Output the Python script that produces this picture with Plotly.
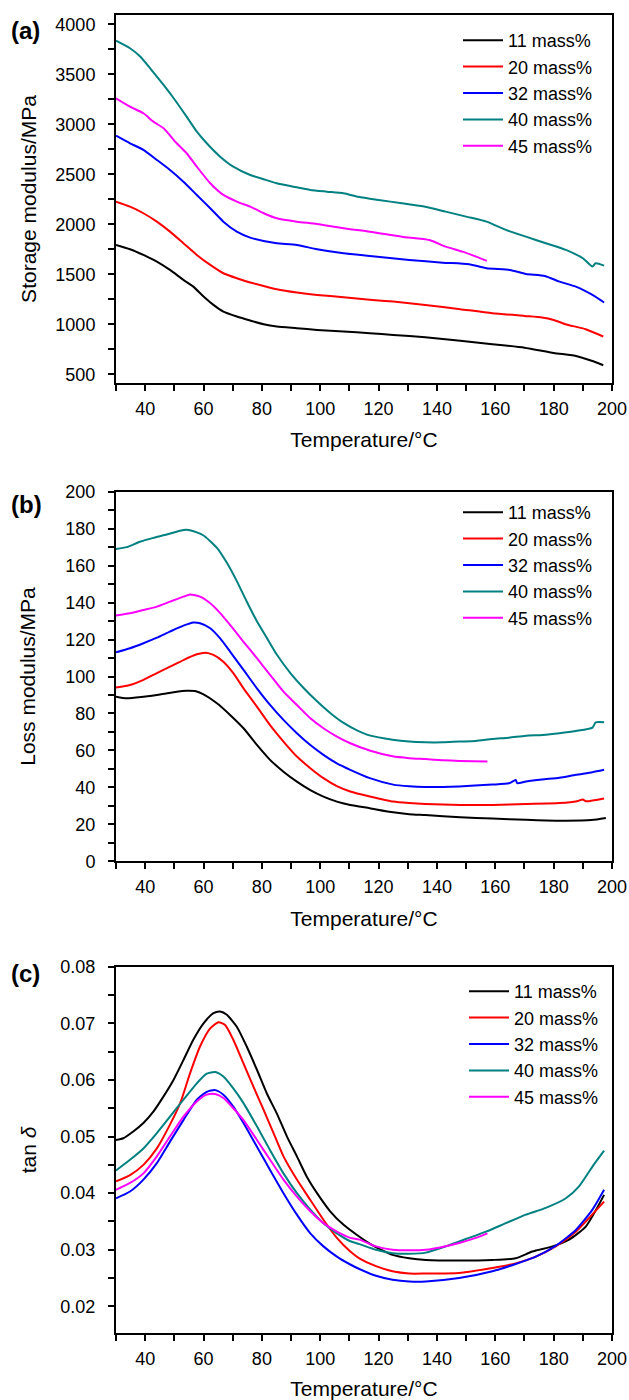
import plotly.graph_objects as go

# ---------------- data ----------------
names = ["11 mass%", "20 mass%", "32 mass%", "40 mass%", "45 mass%"]
colors = ["#000000", "#FF0000", "#0000FF", "#008080", "#FF00FF"]

# (a) Storage modulus / MPa
T_a11 = [30, 34.8, 39.4, 44, 48.5, 53.1, 56.5, 60, 63.4, 66.8, 71.4, 76, 80.6, 85.1, 92, 98.9, 108, 117, 125, 136, 148, 159, 170, 180, 188, 193, 197]
E_a11 = [1793, 1750, 1693, 1626, 1543, 1443, 1376, 1277, 1193, 1126, 1077, 1037, 1000, 977, 960, 943, 927, 910, 893, 870, 835, 800, 765, 713, 680, 635, 590]
T_a20 = [30, 34.8, 39.4, 44, 48.5, 53.1, 57.7, 62.3, 66.8, 71.4, 76, 80.6, 85.1, 92, 98.9, 108, 117, 125, 136, 148, 159, 170, 176, 180, 184, 191, 197]
E_a20 = [2226, 2176, 2110, 2026, 1926, 1810, 1693, 1593, 1510, 1460, 1417, 1383, 1350, 1317, 1293, 1270, 1245, 1226, 1193, 1150, 1110, 1083, 1068, 1043, 1000, 950, 877]
T_a32 = [30, 34.8, 39.4, 44, 48.5, 53.1, 57.7, 62.3, 66.8, 71.4, 76, 80.6, 85.1, 92, 98.9, 108, 117, 130.5, 142, 151, 157, 165, 170.5, 177, 182, 187.6, 193.3, 197.3]
E_a32 = [2886, 2810, 2743, 2643, 2543, 2426, 2293, 2160, 2026, 1926, 1866, 1833, 1810, 1793, 1750, 1710, 1683, 1643, 1616, 1600, 1560, 1543, 1503, 1483, 1426, 1376, 1293, 1217]
T_a40 = [30, 34.8, 38.2, 41.7, 46.3, 50.2, 54.2, 57.7, 61.1, 65.7, 70.2, 76, 80.6, 85.1, 90.8, 96.6, 102.3, 108, 113, 120, 128, 136, 143, 150, 157, 163.6, 170.5, 177.3, 184.2, 190, 193.3, 194.4, 197.3]
E_a40 = [3836, 3760, 3680, 3560, 3393, 3243, 3076, 2926, 2810, 2676, 2576, 2493, 2450, 2410, 2376, 2343, 2326, 2310, 2275, 2243, 2210, 2176, 2126, 2076, 2026, 1943, 1876, 1810, 1743, 1660, 1577, 1610, 1586]
T_a45 = [30, 34.8, 39.4, 42.8, 46.3, 50.8, 54.2, 57.7, 62.3, 66.8, 71.4, 76, 80.6, 85.1, 92, 98.9, 108, 117, 128, 137.4, 143, 148.8, 153.4, 157.1]
E_a45 = [3260, 3176, 3110, 3026, 2960, 2810, 2710, 2576, 2410, 2293, 2226, 2176, 2110, 2060, 2026, 2003, 1960, 1926, 1876, 1843, 1776, 1726, 1676, 1633]

# (b) Loss modulus / MPa
T_b11 = [30, 33.7, 39.4, 45.1, 50.8, 54.2, 57.1, 60, 64.6, 69.1, 73.7, 78.3, 82.8, 87.4, 92, 96.6, 101.1, 105.7, 110.3, 117, 125, 130.5, 136, 148, 159, 170.5, 182, 193, 197.9]
E_b11 = [89.1, 88.2, 89.1, 90.3, 91.8, 92.3, 92.1, 90.3, 85.5, 79.2, 72.0, 63.0, 54.9, 48.5, 43.1, 38.5, 35.0, 32.3, 30.5, 28.7, 26.5, 25.5, 25.0, 23.8, 23.1, 22.5, 22.0, 22.3, 23.4]
T_b20 = [30, 34.8, 39.4, 44, 48.5, 53.1, 57.7, 60.6, 63.4, 66.8, 70.2, 73.7, 78.3, 82.8, 87.4, 92, 96.6, 101.1, 105.7, 110.3, 117, 125, 130.5, 136, 148, 159, 170.5, 182, 188, 190, 191, 197.3]
E_b20 = [94.0, 95.4, 98.2, 101.8, 105.3, 108.9, 112.0, 112.9, 111.7, 108.0, 101.8, 93.6, 83.7, 73.7, 64.8, 56.7, 50.4, 45.0, 40.7, 37.8, 35.1, 32.3, 31.5, 31.0, 30.5, 30.5, 31.0, 31.5, 32.5, 33.5, 32.5, 34.0]
T_b32 = [30, 34.8, 39.4, 44, 48.5, 53.1, 56.5, 58.8, 62.3, 65.7, 69.1, 73.7, 78.3, 82.8, 87.4, 92, 96.6, 101.1, 105.7, 110.3, 117, 125, 130.5, 136, 142, 147.6, 153, 159, 164.7, 167, 167.5, 170.5, 176, 182, 187.6, 193.3, 197.3]
E_b32 = [113.1, 115.3, 118.0, 121.0, 124.3, 127.5, 129.2, 128.8, 126.1, 120.6, 113.5, 103.6, 93.6, 84.6, 76.5, 69.3, 62.9, 57.6, 53.0, 49.5, 45.0, 41.5, 40.6, 40.2, 40.2, 40.5, 41.0, 41.5, 42.2, 44.0, 42.3, 43.2, 44.3, 45.2, 46.8, 48.2, 49.5]
T_b40 = [30, 33.7, 38.2, 42.8, 47.4, 51.9, 54.2, 57.7, 60, 64.6, 68, 71.4, 74.8, 78.3, 81.7, 85.1, 89.7, 94.3, 98.9, 103.4, 108, 112.6, 117.2, 124.8, 130.5, 136, 142, 147.6, 153.3, 159, 164.7, 170.5, 176.2, 182, 187.6, 193.3, 194.4, 197.3]
E_b40 = [169.0, 170.0, 172.9, 175.0, 176.8, 178.9, 179.4, 178.0, 176.3, 169.6, 161.5, 151.6, 140.6, 129.9, 120.9, 111.9, 102.0, 93.8, 86.6, 80.3, 74.9, 70.9, 68.0, 65.8, 64.8, 64.4, 64.4, 64.8, 65.1, 66.2, 66.9, 68.0, 68.4, 69.3, 70.5, 72.3, 75.2, 75.2]
T_b45 = [30, 34.8, 39.4, 44, 48.5, 53.1, 55.4, 58.8, 62.3, 65.7, 69.1, 73.7, 78.3, 82.8, 87.4, 92, 96.6, 101.1, 105.7, 110.3, 117.2, 124.8, 130.5, 136, 142, 147.6, 157.3]
E_b45 = [133.0, 134.2, 136.0, 137.8, 140.5, 143.2, 144.4, 143.2, 139.6, 134.3, 127.9, 118.8, 109.9, 100.9, 91.8, 84.6, 77.4, 72.0, 67.5, 63.9, 59.8, 56.8, 55.8, 55.3, 54.7, 54.3, 54.0]

# (c) tan delta
T_c11 = [30, 32.5, 35.9, 39.4, 42.8, 46.3, 49.7, 53.1, 56.5, 60, 63.4, 65.7, 68, 71.4, 74.8, 78.3, 81.7, 85.1, 88.6, 92, 95.4, 98.9, 103.4, 108, 112.6, 117.2, 124.8, 130.5, 136.2, 147.6, 159, 167, 172.7, 179.6, 185.3, 191, 197.3]
D_c11 = [0.0494, 0.0497, 0.0509, 0.0524, 0.0544, 0.0571, 0.0600, 0.0635, 0.0671, 0.0700, 0.0718, 0.0721, 0.0715, 0.0694, 0.0659, 0.0618, 0.0576, 0.0541, 0.0500, 0.0465, 0.0429, 0.0400, 0.0368, 0.0344, 0.0326, 0.0310, 0.0291, 0.0285, 0.0282, 0.0281, 0.0282, 0.0285, 0.0297, 0.0306, 0.0318, 0.0341, 0.0397]
T_c20 = [30, 34.8, 39.4, 44, 48.5, 52, 55.4, 58.8, 62.3, 65.1, 67.4, 70.2, 73.7, 77.1, 80.6, 84, 87.4, 92, 96.6, 101.1, 105.7, 110.3, 113.4, 119.1, 124.8, 130.5, 136.2, 147.6, 159, 167, 173.9, 180.7, 187.6, 192.1, 197.3]
D_c20 = [0.0421, 0.0432, 0.0450, 0.0479, 0.0521, 0.0559, 0.0612, 0.0659, 0.0691, 0.0702, 0.0697, 0.0671, 0.0629, 0.0588, 0.0547, 0.0506, 0.0465, 0.0424, 0.0388, 0.0353, 0.0321, 0.0297, 0.0285, 0.0271, 0.0262, 0.0258, 0.0258, 0.0259, 0.0268, 0.0276, 0.0288, 0.0306, 0.0332, 0.0356, 0.0385]
T_c32 = [30, 34.8, 39.4, 44, 48.5, 53.1, 57.7, 61.1, 64, 66.8, 70.2, 73.7, 78.3, 82.8, 87.4, 92, 96.6, 101.1, 105.7, 110.3, 113.4, 119.1, 124.8, 130.5, 136.2, 147.6, 159, 167, 173.9, 180.7, 187.6, 193.3, 197.3]
D_c32 = [0.0391, 0.0403, 0.0424, 0.0453, 0.0491, 0.0529, 0.0565, 0.0579, 0.0582, 0.0574, 0.0553, 0.0524, 0.0482, 0.0441, 0.0400, 0.0362, 0.0329, 0.0306, 0.0288, 0.0274, 0.0266, 0.0254, 0.0247, 0.0244, 0.0244, 0.0250, 0.0262, 0.0275, 0.0288, 0.0307, 0.0335, 0.0371, 0.0406]
T_c40 = [30, 34.8, 39.4, 44, 48.5, 53.1, 57.7, 61.1, 64, 66.8, 70.2, 73.7, 78.3, 82.8, 87.4, 92, 96.6, 101.1, 105.7, 110.3, 113.4, 119.1, 124.8, 130.5, 136.2, 143, 149.9, 156.8, 163.6, 170.5, 177.3, 184.2, 188.7, 193.3, 197.3]
D_c40 = [0.0440, 0.0459, 0.0479, 0.0506, 0.0535, 0.0565, 0.0594, 0.0611, 0.0614, 0.0606, 0.0585, 0.0559, 0.0518, 0.0476, 0.0435, 0.0400, 0.0371, 0.0347, 0.0329, 0.0315, 0.0310, 0.0300, 0.0294, 0.0293, 0.0295, 0.0306, 0.0319, 0.0332, 0.0347, 0.0362, 0.0374, 0.0391, 0.0412, 0.0447, 0.0475]
T_c45 = [30, 34.8, 39.4, 44, 48.5, 53.1, 57.7, 61.1, 64, 66.8, 70.2, 73.7, 78.3, 82.8, 87.4, 92, 96.6, 101.1, 105.7, 110.3, 113.4, 119.1, 124.8, 130.5, 136.2, 141.9, 147.6, 153.3, 157.3]
D_c45 = [0.0406, 0.0418, 0.0435, 0.0465, 0.0500, 0.0535, 0.0562, 0.0574, 0.0575, 0.0568, 0.0550, 0.0529, 0.0494, 0.0459, 0.0424, 0.0394, 0.0368, 0.0347, 0.0332, 0.0321, 0.0318, 0.0306, 0.0300, 0.0299, 0.0300, 0.0305, 0.0312, 0.0321, 0.0329]

x_tick_vals = [40, 60, 80, 100, 120, 140, 160, 180, 200]
panel_labels = ["(a)", "(b)", "(c)"]
y_titles = ["Storage modulus/MPa", "Loss modulus/MPa", "tan <i>δ</i>"]
x_title = "Temperature/°C"

# ---------------- figure ----------------
FONT = "Liberation Sans, Arial, Helvetica, sans-serif"
W, H = 629, 1400
L, R = 116, 612
TOP, BOT = 15, 1333
PH = BOT - TOP

def py(p):
    return (BOT - p) / PH

def px(p):
    return (p - L) / (R - L)

panels = [
    (list(zip([T_a11, T_a20, T_a32, T_a40, T_a45], [E_a11, E_a20, E_a32, E_a40, E_a45])), (15, 383), [412, 4093], 500, 250, None),
    (list(zip([T_b11, T_b20, T_b32, T_b40, T_b45], [E_b11, E_b20, E_b32, E_b40, E_b45])), (491.7, 861.3), [0, 200], 20, 10, None),
    (list(zip([T_c11, T_c20, T_c32, T_c40, T_c45], [D_c11, D_c20, D_c32, D_c40, D_c45])), (966.7, 1333), [0.0153, 0.08], 0.01, 0.005, ".2f"),
]
legend_tops = [22, 494, 973]
legend_left = [458, 458, 464]
y_standoff = [13, 24, 18]
label_offset = [16, 13, 7]

fig = go.Figure()
layout = dict(
    width=W, height=H, paper_bgcolor="white", plot_bgcolor="white",
    margin=dict(l=L, r=W - R, t=TOP, b=H - BOT, autoexpand=False),
    font=dict(family=FONT, size=18, color="black"),
    annotations=[],
)

for i, (series, (ytop, ybot), yrange, dt, mdt, fmt) in enumerate(panels):
    k = "" if i == 0 else str(i + 1)
    leg = "legend" if i == 0 else f"legend{i + 1}"
    for (t, v), nm, col in zip(series, names, colors):
        fig.add_trace(go.Scatter(
            x=t, y=v, mode="lines", name=nm,
            line=dict(color=col, width=2, shape="spline", smoothing=0.6),
            xaxis="x" + k, yaxis="y" + k, legend=leg, showlegend=True,
        ))
    layout["xaxis" + k] = dict(
        domain=[0, 1], anchor="y" + k, range=[30, 200], automargin=False,
        tickmode="array", tickvals=x_tick_vals,
        ticks="outside", ticklen=6, tickwidth=1.5, tickcolor="black",
        showline=True, linewidth=2, linecolor="black", mirror=True,
        showgrid=False, zeroline=False,
        minor=dict(dtick=10, tick0=0, ticks="outside", ticklen=6, tickwidth=1.5, tickcolor="black", showgrid=False),
        tickfont=dict(size=18), ticklabelstandoff=2,
        title=dict(text=x_title, font=dict(size=21), standoff=15),
    )
    layout["yaxis" + k] = dict(
        domain=[py(ybot), py(ytop)], anchor="x" + k, range=yrange, automargin=False,
        dtick=dt, tick0=0, tickformat=fmt,
        ticks="outside", ticklen=6, tickwidth=1.5, tickcolor="black",
        showline=True, linewidth=2, linecolor="black", mirror=True,
        showgrid=False, zeroline=False,
        minor=dict(dtick=mdt, tick0=0, ticks="outside", ticklen=6, tickwidth=1.5, tickcolor="black", showgrid=False),
        tickfont=dict(size=18), ticklabelstandoff=9,
        title=dict(text=y_titles[i], font=dict(size=21), standoff=y_standoff[i]),
    )
    layout[leg] = dict(
        x=px(legend_left[i]), y=py(legend_tops[i]), xanchor="left", yanchor="top",
        bgcolor="rgba(0,0,0,0)", borderwidth=0, font=dict(size=18),
        tracegroupgap=0, itemwidth=40,
    )
    layout["annotations"].append(dict(
        text=f"<b>{panel_labels[i]}</b>", xref="paper", yref="paper",
        x=px(9), y=py(ytop + label_offset[i]), xanchor="left", yanchor="middle",
        showarrow=False, font=dict(size=24, color="black"),
    ))

fig.update_layout(**layout)
fig.write_html(
    "out.html",
    config={"displayModeBar": False},
    post_script="document.body.style.margin='0';document.body.style.overflow='hidden';",
)
